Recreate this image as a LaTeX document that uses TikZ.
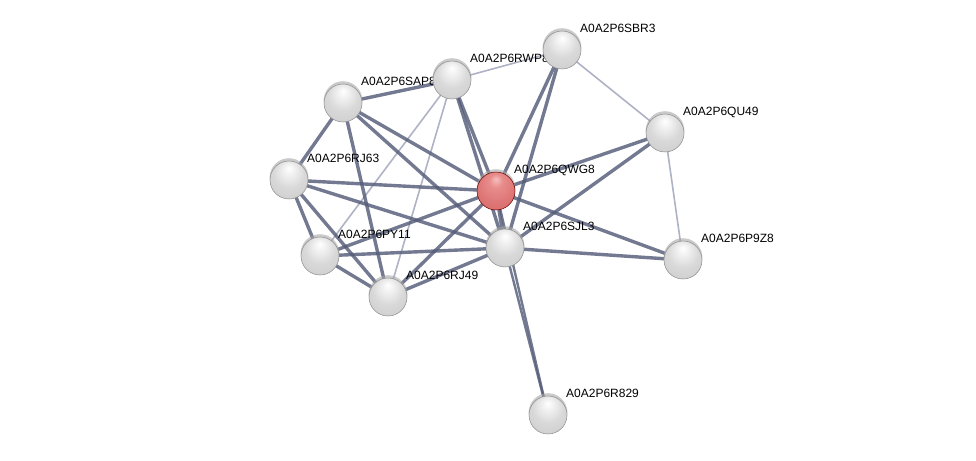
\documentclass[tikz,border=0pt]{standalone}
\usepackage{fontspec}
\setmainfont{Liberation Sans}
\definecolor{edgedark}{RGB}{84,92,120}
\definecolor{edgelight}{RGB}{174,178,196}
\pgfdeclareradialshading{grayball}{\pgfpoint{0bp}{16bp}}{%
  color(0bp)=(white); color(8bp)=(black!6); color(20bp)=(black!15);
  color(34bp)=(black!19); color(43bp)=(black!28); color(47bp)=(black!42); color(50bp)=(black!58)}
\pgfdeclareradialshading{redball}{\pgfpoint{0bp}{16bp}}{%
  color(0bp)=(rgb,255:red,246;green,190;blue,190); color(9bp)=(rgb,255:red,232;green,140;blue,140);
  color(24bp)=(rgb,255:red,222;green,118;blue,118); color(38bp)=(rgb,255:red,214;green,104;blue,104);
  color(45bp)=(rgb,255:red,196;green,82;blue,82); color(50bp)=(rgb,255:red,160;green,50;blue,50)}
\begin{document}
\begin{tikzpicture}[x=1pt,y=-1pt,
  strong/.style={draw=edgedark,line width=3.4pt,draw opacity=0.82},
  weak/.style={draw=edgelight,line width=1.6pt},
  ballnode/.style={circle,minimum size=38pt,inner sep=0pt,draw=black!45,line width=0.5pt,shading=grayball},
  rednode/.style={ballnode,draw=red!40!black,shading=redball},
  lbl/.style={anchor=base west,inner sep=0pt,font=\fontsize{12}{14}\selectfont}]
\useasboundingbox (0,0) rectangle (976,460);
% node positions
\coordinate (pSBR3) at (562,50);
\coordinate (pRWP8) at (452,80);
\coordinate (pSAP8) at (343,103);
\coordinate (pQU49) at (665,133);
\coordinate (pRJ63) at (289,180);
\coordinate (pQWG8) at (496,191);
\coordinate (pSJL3) at (505,248);
\coordinate (pPY11) at (320,256);
\coordinate (pP9Z8) at (683,260);
\coordinate (pRJ49) at (388,297);
\coordinate (pR829) at (548,415);
% edges
\draw[weak] (pRWP8) -- (pSBR3);
\draw[weak] (pSBR3) -- (pQU49);
\draw[weak] (pQU49) -- (pP9Z8);
\draw[weak] (pRWP8) -- (pPY11);
\draw[weak] (pRWP8) -- (pRJ49);
\draw[strong] (pSAP8) -- (pRWP8);
\draw[strong] (pSAP8) -- (pRJ63);
\draw[strong] (pSAP8) -- (pQWG8);
\draw[strong] (pSAP8) -- (pSJL3);
\draw[strong] (pSAP8) -- (pRJ49);
\draw[strong] (pRWP8) -- (pQWG8);
\draw[strong] (pRWP8) -- (pSJL3);
\draw[strong] (pSBR3) -- (pQWG8);
\draw[strong] (pSBR3) -- (pSJL3);
\draw[strong] (pQU49) -- (pQWG8);
\draw[strong] (pQU49) -- (pSJL3);
\draw[strong] (pQWG8) -- (pP9Z8);
\draw[strong] (pSJL3) -- (pP9Z8);
\draw[strong] (pRJ63) -- (pQWG8);
\draw[strong] (pRJ63) -- (pSJL3);
\draw[strong] (pRJ63) -- (pPY11);
\draw[strong] (pRJ63) -- (pRJ49);
\draw[strong] (pPY11) -- (pQWG8);
\draw[strong] (pPY11) -- (pSJL3);
\draw[strong] (pPY11) -- (pRJ49);
\draw[strong] (pRJ49) -- (pQWG8);
\draw[strong] (pRJ49) -- (pSJL3);
\draw[strong] (pQWG8) -- (pSJL3);
\draw[strong,line width=2.4pt] (pSJL3) -- (pR829);
\draw[strong,line width=2.4pt] (pQWG8) -- (pR829);
% labels
\node[lbl] (lSBR3) at ([shift={(18,-17.7)}]pSBR3) {A0A2P6SBR3};
\node[lbl] (lRWP8) at ([shift={(18,-17.7)}]pRWP8) {A0A2P6RWP8};
\node[lbl] (lSAP8) at ([shift={(18,-17.7)}]pSAP8) {A0A2P6SAP8};
\node[lbl] (lQU49) at ([shift={(18,-17.7)}]pQU49) {A0A2P6QU49};
\node[lbl] (lRJ63) at ([shift={(18,-17.7)}]pRJ63) {A0A2P6RJ63};
\node[lbl] (lQWG8) at ([shift={(18,-17.7)}]pQWG8) {A0A2P6QWG8};
\node[lbl] (lSJL3) at ([shift={(18,-17.7)}]pSJL3) {A0A2P6SJL3};
\node[lbl] (lPY11) at ([shift={(18,-17.7)}]pPY11) {A0A2P6PY11};
\node[lbl] (lP9Z8) at ([shift={(18,-17.7)}]pP9Z8) {A0A2P6P9Z8};
\node[lbl] (lRJ49) at ([shift={(18,-17.7)}]pRJ49) {A0A2P6RJ49};
\node[lbl] (lR829) at ([shift={(18,-17.7)}]pR829) {A0A2P6R829};
% nodes
\foreach \n in {SBR3,RWP8,SAP8,QU49,RJ63,SJL3,PY11,P9Z8,RJ49,R829}{
  \fill[black!35,opacity=0.6] ([yshift=2.4]p\n) circle (19.4);
  \node[ballnode] (\n) at (p\n) {};
}
\fill[black!35,opacity=0.6] ([yshift=2.4]pQWG8) circle (19.4);
\node[rednode] (QWG8) at (pQWG8) {};
\end{tikzpicture}
\end{document}
